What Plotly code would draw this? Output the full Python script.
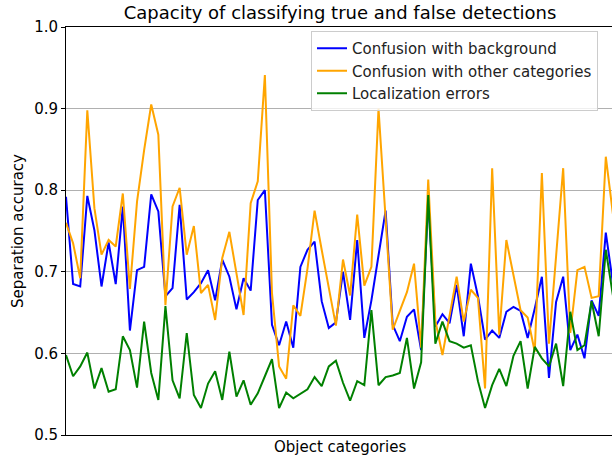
import plotly.graph_objects as go

categories = list(range(78))

confusion_background = [
    0.792, 0.685, 0.682, 0.793, 0.751, 0.682, 0.736, 0.685, 0.780, 0.628,
    0.702, 0.706, 0.795, 0.774, 0.670, 0.680, 0.782, 0.666, 0.675, 0.686,
    0.702, 0.665, 0.715, 0.694, 0.654, 0.692, 0.677, 0.788, 0.800, 0.635,
    0.610, 0.639, 0.607, 0.706, 0.727, 0.737, 0.664, 0.631, 0.638, 0.700,
    0.641, 0.739, 0.619, 0.665, 0.720, 0.775, 0.635, 0.615, 0.645, 0.654,
    0.604, 0.790, 0.633, 0.648, 0.637, 0.684, 0.621, 0.710, 0.670, 0.617,
    0.628, 0.619, 0.651, 0.657, 0.652, 0.619, 0.655, 0.694, 0.570, 0.663,
    0.694, 0.604, 0.623, 0.594, 0.665, 0.646, 0.748, 0.686,
]

confusion_other = [
    0.760, 0.735, 0.692, 0.898, 0.778, 0.721, 0.739, 0.731, 0.796, 0.679,
    0.786, 0.849, 0.905, 0.868, 0.659, 0.780, 0.803, 0.721, 0.756, 0.674,
    0.684, 0.641, 0.717, 0.749, 0.698, 0.647, 0.784, 0.811, 0.941, 0.674,
    0.584, 0.569, 0.659, 0.646, 0.704, 0.775, 0.727, 0.680, 0.634, 0.715,
    0.671, 0.770, 0.683, 0.706, 0.900, 0.765, 0.629, 0.652, 0.675, 0.710,
    0.607, 0.813, 0.640, 0.598, 0.648, 0.694, 0.639, 0.678, 0.668, 0.557,
    0.827, 0.623, 0.739, 0.696, 0.653, 0.644, 0.602, 0.821, 0.612, 0.719,
    0.827, 0.625, 0.702, 0.706, 0.668, 0.670, 0.841, 0.771,
]

localization = [
    0.598, 0.572, 0.584, 0.601, 0.557, 0.582, 0.553, 0.556, 0.621, 0.604,
    0.558, 0.639, 0.576, 0.543, 0.658, 0.567, 0.545, 0.625, 0.549, 0.533,
    0.563, 0.578, 0.543, 0.602, 0.547, 0.567, 0.537, 0.551, 0.572, 0.593,
    0.533, 0.552, 0.545, 0.550, 0.556, 0.571, 0.560, 0.584, 0.591, 0.564,
    0.542, 0.566, 0.561, 0.653, 0.561, 0.571, 0.573, 0.576, 0.619, 0.557,
    0.589, 0.794, 0.612, 0.639, 0.615, 0.612, 0.607, 0.610, 0.566, 0.533,
    0.561, 0.581, 0.560, 0.597, 0.615, 0.557, 0.608, 0.594, 0.584, 0.612,
    0.560, 0.651, 0.604, 0.610, 0.664, 0.621, 0.727, 0.671,
]

series_names = ["Confusion with background", "Confusion with other categories", "Localization errors"]
series_colors = ["#0000ff", "#ffa500", "#008000"]
y_ticks = [0.5, 0.6, 0.7, 0.8, 0.9, 1.0]
y_tick_labels = ["0.5", "0.6", "0.7", "0.8", "0.9", "1.0"]

W, H = 612, 457
L, R, T, B = 66, 0, 27, 22
FONT = "DejaVu Sans"

fig = go.Figure()
for name, vals, col in zip(series_names, [confusion_background, confusion_other, localization], series_colors):
    fig.add_trace(go.Scatter(x=categories, y=vals, mode="lines", name=name,
                             line=dict(color=col, width=2)))

pw = W - L - R
ph = H - T - B
fig.update_layout(
    width=W, height=H,
    margin=dict(l=L, r=R, t=T, b=B, pad=0),
    paper_bgcolor="white", plot_bgcolor="white",
    font=dict(family=FONT, size=15, color="black"),
    title=dict(text="Capacity of classifying true and false detections",
               font=dict(family=FONT, size=18, color="black"),
               x=340 / W, xref="container", xanchor="center",
               y=1 - 13 / H, yref="container", yanchor="middle"),
    xaxis=dict(range=[0, (612 - 66.2) / 7.1], showgrid=False, zeroline=False,
               showticklabels=False, ticks="", showline=True, linecolor="black",
               linewidth=1, mirror=True),
    yaxis=dict(range=[0.5, 1.0], tickvals=y_ticks, ticktext=y_tick_labels,
               showgrid=True, gridcolor="#b0b0b0", gridwidth=1, zeroline=False,
               ticks="outside", ticklen=4, tickcolor="black", tickwidth=1,
               showline=True, linecolor="black", linewidth=1, mirror=False,
               tickfont=dict(family=FONT, size=15, color="black")),
    legend=dict(x=(311 - L) / pw, y=(H - B - 31) / ph, xanchor="left", yanchor="top",
                bgcolor="rgba(255,255,255,0.8)", bordercolor="#cccccc", borderwidth=1,
                font=dict(family=FONT, size=15, color="#222222"), tracegroupgap=0),
    showlegend=True,
)

fig.add_annotation(text="Object categories", xref="paper", yref="paper",
                   x=(340 - L) / pw, y=-(447 - (H - B)) / ph, xanchor="center", yanchor="middle",
                   showarrow=False, font=dict(family=FONT, size=15, color="black"))
fig.add_annotation(text="Separation accuracy", xref="paper", yref="paper",
                   x=-(L - 18) / pw, y=0.5, xanchor="center", yanchor="middle", textangle=-90,
                   showarrow=False, font=dict(family=FONT, size=15, color="black"))

fig.write_html("out.html", config={"displayModeBar": False},
               post_script="document.body.style.margin='0';document.body.style.padding='0';")
